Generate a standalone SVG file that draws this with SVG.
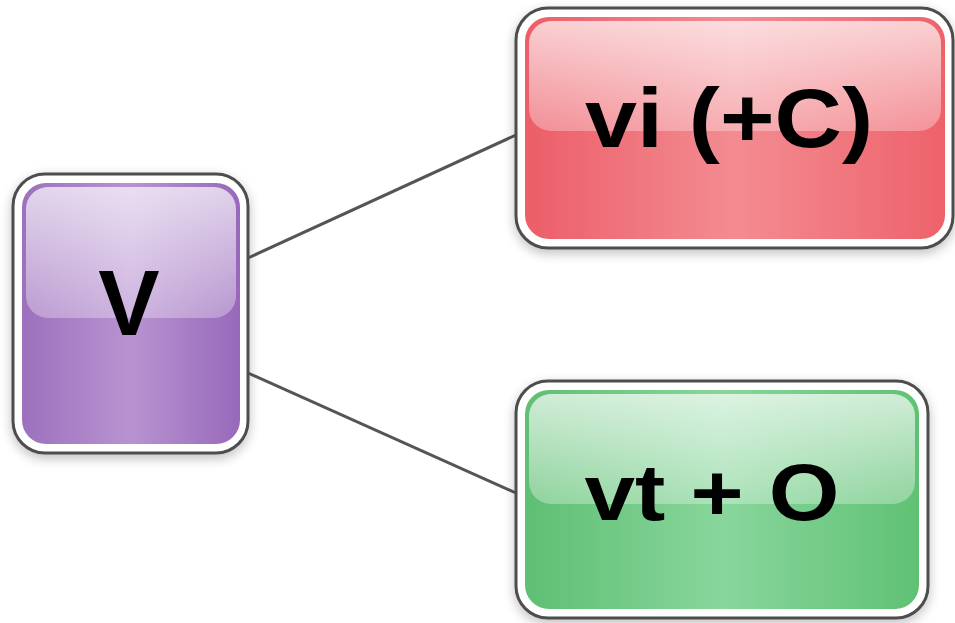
<svg xmlns="http://www.w3.org/2000/svg" width="955" height="623" viewBox="0 0 955 623">
<defs>
<filter id="sh" x="-10%" y="-10%" width="120%" height="125%">
<feGaussianBlur in="SourceAlpha" stdDeviation="6"/>
<feOffset dx="0" dy="4"/>
<feComponentTransfer><feFuncA type="linear" slope="0.25"/></feComponentTransfer>
<feMerge><feMergeNode/><feMergeNode in="SourceGraphic"/></feMerge>
</filter>
<linearGradient id="gP" x1="0" y1="0" x2="1" y2="0">
<stop offset="0" stop-color="#9d70bd"/><stop offset="0.5" stop-color="#b893d1"/><stop offset="1" stop-color="#9869ba"/>
</linearGradient>
<linearGradient id="gR" x1="0" y1="0" x2="1" y2="0">
<stop offset="0" stop-color="#ec5e68"/><stop offset="0.5" stop-color="#f38c92"/><stop offset="1" stop-color="#ee626b"/>
</linearGradient>
<linearGradient id="gG" x1="0" y1="0" x2="1" y2="0">
<stop offset="0" stop-color="#5fbf73"/><stop offset="0.5" stop-color="#88d69c"/><stop offset="1" stop-color="#60c174"/>
</linearGradient>
<linearGradient id="hl" x1="0" y1="0" x2="0" y2="1">
<stop offset="0" stop-color="#ffffff" stop-opacity="0.7"/><stop offset="1" stop-color="#ffffff" stop-opacity="0.3"/>
</linearGradient>
</defs>
<style>
.outer{fill:#ffffff;stroke:#4d4d4d;stroke-width:3}
.lbl{font-family:"Liberation Sans",Arial,sans-serif;font-weight:bold;fill:#000;text-anchor:middle}
.edge{stroke:#555555;stroke-width:3;fill:none}
</style>
<rect width="955" height="623" fill="#ffffff"/>
<g id="connectors">
<line class="edge" x1="248" y1="258" x2="516" y2="135"/>
<line class="edge" x1="248" y1="373" x2="516" y2="493"/>
</g>
<g id="node-v" filter="url(#sh)">
<rect class="outer" x="13" y="174" width="235" height="279" rx="32"/>
<rect x="22" y="183" width="218" height="261" rx="24" fill="url(#gP)"/>
<rect x="26" y="187" width="210" height="131" rx="22" fill="url(#hl)"/>
<text class="lbl" x="129" y="335" font-size="92">V</text>
</g>
<g id="node-vi" filter="url(#sh)">
<rect class="outer" x="516" y="8" width="437" height="240" rx="32"/>
<rect x="525" y="17" width="420" height="222" rx="24" fill="url(#gR)"/>
<rect x="529" y="21" width="412" height="110" rx="22" fill="url(#hl)"/>
<text class="lbl" x="729" y="147" font-size="84" textLength="288" lengthAdjust="spacingAndGlyphs">vi (+C)</text>
</g>
<g id="node-vt" filter="url(#sh)">
<rect class="outer" x="516" y="381" width="412" height="237" rx="32"/>
<rect x="525" y="390" width="394" height="219" rx="24" fill="url(#gG)"/>
<rect x="529" y="394" width="386" height="110" rx="22" fill="url(#hl)"/>
<text class="lbl" x="712" y="520" font-size="80" textLength="255" lengthAdjust="spacingAndGlyphs">vt + O</text>
</g>
</svg>
